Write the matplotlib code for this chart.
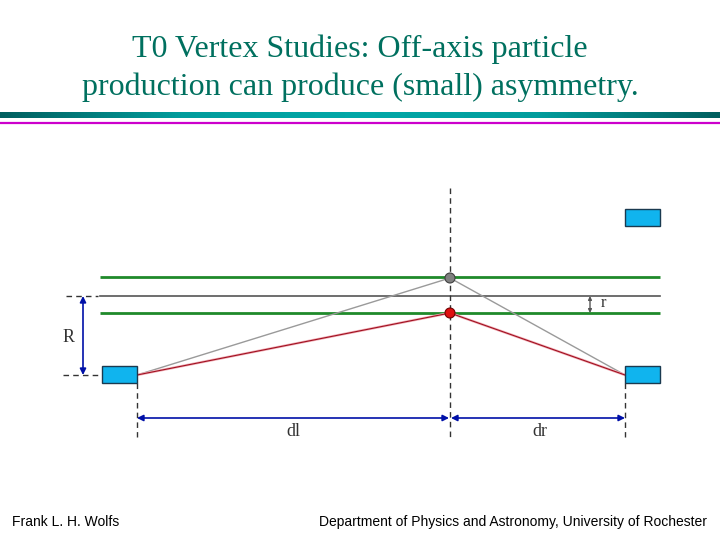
import numpy as np
import matplotlib
matplotlib.use("Agg")
import matplotlib.pyplot as plt
from matplotlib.patches import Rectangle, Circle, FancyArrowPatch
from matplotlib.colors import LinearSegmentedColormap

# ---- content / geometry (slide pixel coordinates) ----
title_lines = ["T0 Vertex Studies: Off-axis particle",
               "production can produce (small) asymmetry."]
footer_left = "Frank L. H. Wolfs"
footer_right = "Department of Physics and Astronomy, University of Rochester"

beam_x = [100, 660]
green_y = [277, 313]
center_y = 296
vertex_x = 450
vertex_y = [278, 313]          # gray (on-axis ref) and red (off-axis) vertices
det_left = (102, 366, 35, 17)  # x, y, w, h
det_right = (625, 366, 35, 17)
det_top = (625, 209, 35, 17)
det_y = 375
det_left_x = 137
det_right_x = 625
dim_y = 418
labels_dim = {"dl": (293, 432), "dr": (540, 432), "R": (69, 337), "r": (603, 303)}

fig = plt.figure(figsize=(7.2, 5.4), dpi=100)
ax = fig.add_axes([0, 0, 1, 1])
ax.set_xlim(0, 720)
ax.set_ylim(540, 0)
ax.axis("off")

# ---- header bar ----
cmap = LinearSegmentedColormap.from_list("tealbar", ["#005f5f", "#009c9c", "#00a8a8", "#009c9c", "#005f5f"])
grad = np.linspace(0, 1, 256).reshape(1, -1)
ax.imshow(grad, cmap=cmap, extent=[0, 720, 118.5, 113], aspect="auto", zorder=1)
ax.plot([0, 720], [122.5, 122.5], color="#cc00cc", lw=1.6, solid_capstyle="butt")

title_color = "#00705f"
ax.text(360, 57, title_lines[0], ha="center", va="baseline", fontsize=23,
        family="Liberation Serif", color=title_color)
ax.text(360, 95, title_lines[1], ha="center", va="baseline", fontsize=23,
        family="Liberation Serif", color=title_color)

# ---- beam lines ----
for gy in green_y:
    ax.plot(beam_x, [gy, gy], color="#1f8a2a", lw=2.0, solid_capstyle="butt", zorder=2)
ax.plot(beam_x, [center_y, center_y], color="#555555", lw=1.2, zorder=2)
dash = dict(color="#333333", lw=1.0, ls=(0, (4, 3)))
ax.plot([66, 98], [center_y, center_y], **dash)
ax.plot([63, 101], [det_y, det_y], **dash)
ax.plot([vertex_x, vertex_x], [188, 440], **dash, zorder=3)
ax.plot([det_left_x, det_left_x], [383, 437], **dash)
ax.plot([det_right_x, det_right_x], [383, 437], **dash)

# ---- tracks ----
ax.plot([det_left_x, vertex_x, det_right_x], [det_y, vertex_y[0], det_y],
        color="#9a9a9a", lw=1.0, zorder=3)
ax.plot([det_left_x, vertex_x, det_right_x], [det_y, vertex_y[1], det_y],
        color="#f2b0b8", lw=1.8, zorder=3)
ax.plot([det_left_x, vertex_x, det_right_x], [det_y, vertex_y[1], det_y],
        color="#a01020", lw=0.8, zorder=3)

# ---- vertices ----
ax.add_patch(Circle((vertex_x, vertex_y[0]), 5, facecolor="#808080", edgecolor="#404040", lw=0.8, zorder=5))
ax.add_patch(Circle((vertex_x, vertex_y[1]), 5, facecolor="#e01010", edgecolor="#700000", lw=0.8, zorder=5))

# ---- detectors ----
for (x, y, w, h) in [det_left, det_right, det_top]:
    ax.add_patch(Rectangle((x, y), w, h, facecolor="#10b4ee", edgecolor="#1a3a50", lw=1.0, zorder=4))

# ---- dimension arrows ----
blue = "#0010a8"
def darrow(p0, p1, color, lw=1.2, ms=9):
    ax.add_patch(FancyArrowPatch(p0, p1, arrowstyle="<|-|>", mutation_scale=ms,
                                 color=color, lw=lw, shrinkA=0, shrinkB=0, zorder=4))
darrow((83, center_y), (83, det_y), blue)
darrow((det_left_x, dim_y), (vertex_x - 1, dim_y), blue)
darrow((vertex_x + 1, dim_y), (det_right_x, dim_y), blue)
darrow((590, center_y), (590, green_y[1]), "#555555", lw=1.0, ms=5)

lab_color = "#333333"
for k, (x, y) in labels_dim.items():
    ax.text(x, y, k, ha="center", va="center", fontsize=13 if k in ("dl", "dr", "R") else 12,
            family="Liberation Serif", color=lab_color)

# ---- footer ----
ax.text(12, 522, footer_left, ha="left", va="center", fontsize=10,
        family="Liberation Sans", color="black")
ax.text(707, 522, footer_right, ha="right", va="center", fontsize=10,
        family="Liberation Sans", color="black")

fig.savefig("out.png", dpi=100)
